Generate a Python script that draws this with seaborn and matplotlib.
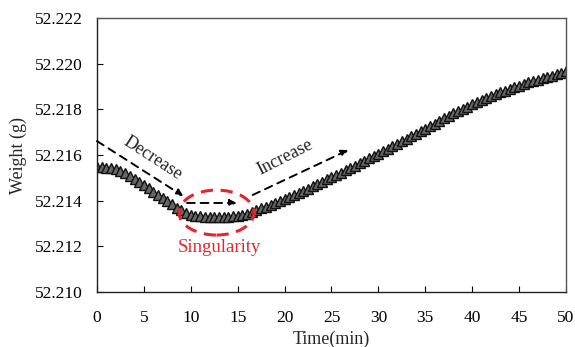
import numpy as np
import pandas as pd
import matplotlib
matplotlib.use("Agg")
import matplotlib.pyplot as plt
from matplotlib.patches import Ellipse
import seaborn as sns

# Sample times (min) and measured weight (g)
time_min = [
    0.0, 0.5, 1.0, 1.5, 2.0, 2.5, 3.0, 3.5, 4.0, 4.5,
    5.0, 5.5, 6.0, 6.5, 7.0, 7.5, 8.0, 8.5, 9.0, 9.5,
    10.0, 10.5, 11.0, 11.5, 12.0, 12.5, 13.0, 13.5, 14.0, 14.5,
    15.0, 15.5, 16.0, 16.5, 17.0, 17.5, 18.0, 18.5, 19.0, 19.5,
    20.0, 20.5, 21.0, 21.5, 22.0, 22.5, 23.0, 23.5, 24.0, 24.5,
    25.0, 25.5, 26.0, 26.5, 27.0, 27.5, 28.0, 28.5, 29.0, 29.5,
    30.0, 30.5, 31.0, 31.5, 32.0, 32.5, 33.0, 33.5, 34.0, 34.5,
    35.0, 35.5, 36.0, 36.5, 37.0, 37.5, 38.0, 38.5, 39.0, 39.5,
    40.0, 40.5, 41.0, 41.5, 42.0, 42.5, 43.0, 43.5, 44.0, 44.5,
    45.0, 45.5, 46.0, 46.5, 47.0, 47.5, 48.0, 48.5, 49.0, 49.5,
    50.0,
]
weight_g = [
    52.21548, 52.21547, 52.21545, 52.21542, 52.21537, 52.21530, 52.21520, 52.21508, 52.21495, 52.21482,
    52.21468, 52.21454, 52.21440, 52.21426, 52.21412, 52.21398, 52.21384, 52.21370, 52.21357, 52.21346,
    52.21338, 52.21334, 52.21331, 52.21330, 52.21329, 52.21329, 52.21329, 52.21329, 52.21330, 52.21331,
    52.21333, 52.21337, 52.21342, 52.21350, 52.21358, 52.21366, 52.21374, 52.21382, 52.21390, 52.21398,
    52.21406, 52.21415, 52.21424, 52.21433, 52.21443, 52.21453, 52.21463, 52.21473, 52.21483, 52.21493,
    52.21503, 52.21513, 52.21523, 52.21533, 52.21543, 52.21553, 52.21564, 52.21574, 52.21585, 52.21595,
    52.21606, 52.21617, 52.21628, 52.21639, 52.21650, 52.21661, 52.21672, 52.21683, 52.21694, 52.21705,
    52.21716, 52.21727, 52.21738, 52.21749, 52.21760, 52.21771, 52.21782, 52.21792, 52.21802, 52.21812,
    52.21822, 52.21831, 52.21840, 52.21849, 52.21858, 52.21866, 52.21874, 52.21882, 52.21890, 52.21897,
    52.21904, 52.21911, 52.21918, 52.21924, 52.21930, 52.21936, 52.21942, 52.21948, 52.21954, 52.21960,
    52.21966,
]

x_ticks = [0, 5, 10, 15, 20, 25, 30, 35, 40, 45, 50]
y_ticks = [52.210, 52.212, 52.214, 52.216, 52.218, 52.220, 52.222]

sns.set_style("ticks")
plt.rcParams["font.family"] = ["Liberation Serif", "DejaVu Serif"]
plt.rcParams["font.size"] = 12.5

df = pd.DataFrame({"Time(min)": time_min, "Weight (g)": weight_g})

fig = plt.figure(figsize=(5.75, 3.47), dpi=100)
ax = fig.add_axes([0.1687, 0.1585, 0.8156, 0.7895])

sns.lineplot(data=df, x="Time(min)", y="Weight (g)", ax=ax, color="#333333",
             linewidth=1.0, marker="^", markersize=7,
             markerfacecolor="#666666", markeredgecolor="#111111",
             markeredgewidth=1.0)

ax.set_xlim(0, 50)
ax.set_ylim(52.210, 52.222)
ax.set_xticks(x_ticks)
ax.set_yticks(y_ticks)
ax.set_xticklabels([str(v) for v in x_ticks])
ax.set_yticklabels([f"{v:.3f}" for v in y_ticks])
ax.tick_params(direction="in", length=4, width=0.8, colors="black",
               labelsize=12.5, top=False, right=False)
ax.tick_params(axis="x", pad=13)
ax.tick_params(axis="y", pad=10)
ax.set_xlabel("Time(min)", fontsize=13, labelpad=3)
ax.set_ylabel("Weight (g)", fontsize=13, labelpad=6)
for side in ["top", "right"]:
    ax.spines[side].set_visible(True)
    ax.spines[side].set_color("#555555")
for side in ["left", "bottom"]:
    ax.spines[side].set_color("#222222")
for s in ax.spines.values():
    s.set_linewidth(1.0)

arrow_kw = dict(arrowstyle="-|>", linestyle=(0, (4, 3)), color="black",
                lw=1.4, mutation_scale=10, shrinkA=0, shrinkB=0)

# Decrease trend
ax.annotate("", xy=(9.2, 52.21420), xytext=(0.0, 52.21661), arrowprops=arrow_kw)
ax.text(6.0, 52.21587, "Decrease", rotation=-33, ha="center", va="center", fontsize=13)

# Flat stretch inside the singularity
ax.annotate("", xy=(14.9, 52.21390), xytext=(9.6, 52.21390), arrowprops=arrow_kw)

# Increase trend
ax.annotate("", xy=(26.8, 52.21622), xytext=(16.6, 52.21425), arrowprops=arrow_kw)
ax.text(20.1, 52.21591, "Increase", rotation=27, ha="center", va="center", fontsize=13)

# Singularity marker
ax.add_patch(Ellipse((12.74, 52.21348), width=8.0, height=0.00197, fill=False,
                     edgecolor="#e8242a", linestyle=(0, (4, 2.5)), linewidth=2.2,
                     zorder=5))
ax.text(13.1, 52.21197, "Singularity", color="#e8242a", ha="center", va="center",
        fontsize=13.5)

fig.savefig("out.png", dpi=100)
